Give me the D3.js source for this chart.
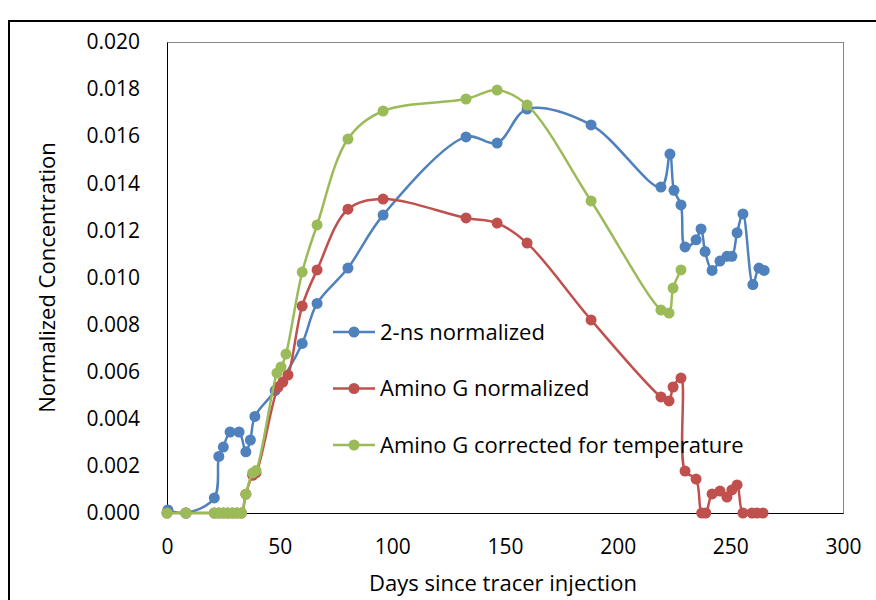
<!DOCTYPE html>
<html>
<head>
<meta charset="utf-8">
<script src="https://cdn.jsdelivr.net/npm/d3@7"></script>
<style>
  body { margin: 0; background: #fff; }
  svg text { font-family: "Open Sans", Lato, sans-serif; fill: #000; }
</style>
</head>
<body>
<div id="app"></div>
<script>
// days since injection and normalized concentration
var nsDays = [0.4, 8.4, 21, 23, 25, 28, 32, 35, 37, 39, 48, 60, 66.6, 80.3, 95.9, 132.7, 146.5, 159.8, 188.2,
  219.2, 223.2, 225, 228.1, 229.9, 234.8, 237, 238.8, 241.9, 245.4, 248.5, 250.7, 253, 255.6, 260, 262.7, 265];
var nsVals = [0.00013, 0, 0.00064, 0.0024, 0.0028, 0.00344, 0.00344, 0.0026, 0.0031, 0.0041, 0.0052, 0.0072, 0.0089, 0.0104, 0.01265, 0.01597, 0.01571, 0.01715, 0.01648,
  0.01384, 0.01524, 0.0137, 0.01308, 0.0113, 0.0116, 0.01206, 0.0111, 0.0103, 0.0107, 0.0109, 0.0109, 0.0119, 0.0127, 0.0097, 0.0104, 0.0103];

var agDays = [0, 8.4, 21, 23, 25, 27, 29, 31, 33, 35, 38, 39.5, 49.3, 51.4, 53.7, 60, 66.6, 80.3, 95.9, 132.7, 146.5, 159.8, 188.2,
  219.2, 222.8, 224.6, 228.1, 229.9, 234.8, 237.3, 239.1, 241.9, 245.4, 248.5, 250.7, 253, 255.6, 259.6, 261.8, 264.5];
var agVals = [0, 0, 0, 0, 0, 0, 0, 0, 0, 0.0008, 0.0016, 0.0017, 0.00535, 0.00556, 0.00586, 0.00879, 0.01032, 0.0129, 0.01333, 0.01253, 0.01231, 0.01146, 0.0082,
  0.00493, 0.00476, 0.00535, 0.00573, 0.00178, 0.00144, 0, 0, 0.00081, 0.00093, 0.00068, 0.00098, 0.00119, 0, 0, 0, 0];

var agtDays = [0, 8.4, 21, 23, 25, 27, 29, 31, 33, 35, 38, 39.5, 48.8, 50.6, 52.8, 60, 66.6, 80.3, 95.9, 132.7, 146.5, 159.8, 188.2,
  219.2, 222.8, 224.6, 228.1];
var agtVals = [0, 0, 0, 0, 0, 0, 0, 0, 0, 0.0008, 0.0017, 0.0018, 0.00594, 0.0062, 0.00675, 0.01023, 0.01223, 0.01588, 0.01707, 0.01758, 0.01796, 0.01732, 0.01325,
  0.00862, 0.00849, 0.00955, 0.01032];

var seriesNames = ["2-ns normalized", "Amino G normalized", "Amino G corrected for temperature"];
var seriesColors = ["#4f81bd", "#c0504d", "#9bbb59"];
var xTicks = [0, 50, 100, 150, 200, 250, 300];
var yTicks = [0, 0.002, 0.004, 0.006, 0.008, 0.010, 0.012, 0.014, 0.016, 0.018, 0.020];

var W = 876, H = 600;
var margin = {top: 42, right: 33, bottom: 87, left: 167},
    width = W - margin.left - margin.right,
    height = H - margin.top - margin.bottom;

var svg = d3.select("#app").append("svg")
    .attr("width", W)
    .attr("height", H);

// outer chart frame
svg.append("path")
    .attr("d", "M9," + H + "V21H" + W)
    .attr("fill", "none")
    .attr("stroke", "#000")
    .attr("stroke-width", 2);

var g = svg.append("g")
    .attr("transform", "translate(" + margin.left + "," + margin.top + ")");

var x = d3.scaleLinear().domain([0, 300]).range([0, width]);
var y = d3.scaleLinear().domain([0, 0.02]).range([height, 0]);

g.append("rect")
    .attr("x", 0.5).attr("y", 0.5)
    .attr("width", width).attr("height", height)
    .attr("fill", "none")
    .attr("stroke", "#868686");

g.append("g")
    .attr("transform", "translate(0," + height + ")")
    .call(d3.axisBottom(x).tickValues(xTicks).tickSize(0).tickPadding(26).tickFormat(d3.format("d")))
    .call(function(a) {
      a.select(".domain").attr("stroke", "#000");
      a.selectAll("text").style("font-size", "21px");
    });

g.append("g")
    .call(d3.axisLeft(y).tickValues(yTicks).tickSize(0).tickPadding(27).tickFormat(d3.format(".3f")))
    .call(function(a) {
      a.select(".domain").attr("stroke", "#000");
      a.selectAll("text").style("font-size", "21px");
    });

svg.append("text")
    .attr("x", 503)
    .attr("y", 583)
    .attr("dy", "0.35em")
    .attr("text-anchor", "middle")
    .style("font-size", "22px")
    .text("Days since tracer injection");

svg.append("text")
    .attr("transform", "translate(47," + (margin.top + height / 2) + ") rotate(-90)")
    .attr("dy", "0.35em")
    .attr("text-anchor", "middle")
    .style("font-size", "22px")
    .text("Normalized Concentration");

var series = [
  {name: seriesNames[0], color: seriesColors[0], pts: d3.zip(nsDays, nsVals)},
  {name: seriesNames[1], color: seriesColors[1], pts: d3.zip(agDays, agVals)},
  {name: seriesNames[2], color: seriesColors[2], pts: d3.zip(agtDays, agtVals)}
];

var line = d3.line()
    .x(function(d) { return x(d[0]); })
    .y(function(d) { return y(d[1]); })
    .curve(d3.curveCatmullRom.alpha(0.5));

series.forEach(function(s) {
  var sg = g.append("g");
  sg.append("path")
      .attr("d", line(s.pts))
      .attr("fill", "none")
      .attr("stroke", s.color)
      .attr("stroke-width", 2.5);
  sg.selectAll("circle")
      .data(s.pts)
    .enter().append("circle")
      .attr("cx", function(d) { return x(d[0]); })
      .attr("cy", function(d) { return y(d[1]); })
      .attr("r", 5.5)
      .attr("fill", s.color);
});

// legend inside the plot
var legend = svg.append("g").attr("transform", "translate(333,332)");
series.forEach(function(s, i) {
  var lg = legend.append("g").attr("transform", "translate(0," + (i * 56.5) + ")");
  lg.append("line")
      .attr("x1", 0).attr("x2", 42)
      .attr("stroke", s.color).attr("stroke-width", 2.5);
  lg.append("circle").attr("cx", 21).attr("r", 5.5).attr("fill", s.color);
  lg.append("text")
      .attr("x", 47).attr("dy", "0.35em")
      .style("font-size", "22px")
      .text(s.name);
});
</script>
</body>
</html>
